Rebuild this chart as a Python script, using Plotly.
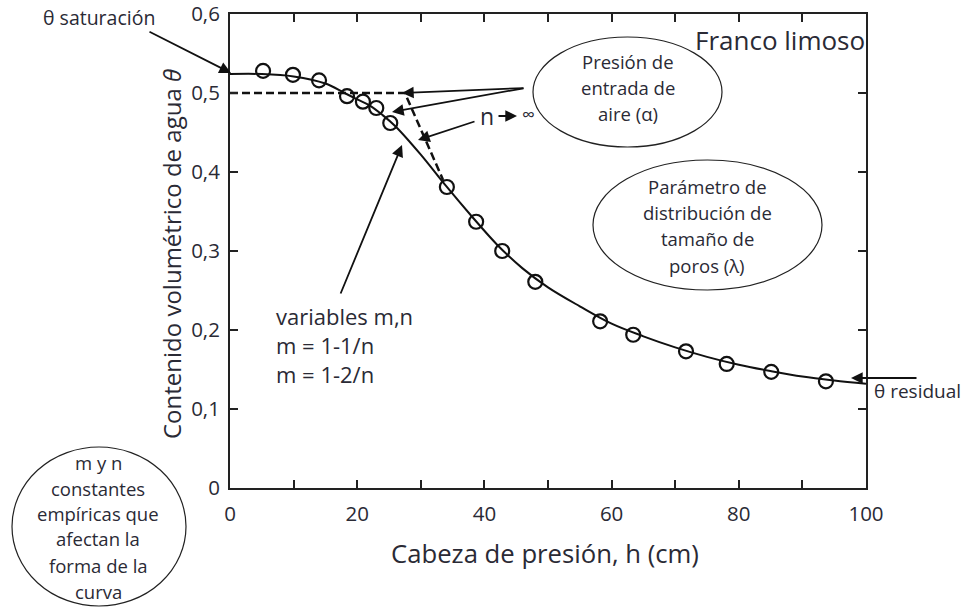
import plotly.graph_objects as go

# ---------------- data ----------------
obs_h = [5.2, 9.9, 14.0, 18.4, 20.9, 23.0, 25.2, 34.1, 38.7, 42.8, 48.0, 58.2, 63.4, 71.7, 78.1, 85.1, 93.7]
obs_theta = [0.528, 0.523, 0.516, 0.496, 0.489, 0.481, 0.462, 0.381, 0.337, 0.300, 0.261, 0.211, 0.194, 0.173, 0.157, 0.147, 0.135]

fit_h = [0, 5, 10, 15, 18, 20, 22, 24, 26, 30, 34, 38, 42, 46, 50, 55, 60, 65, 70, 75, 80, 85, 90, 95, 100]
fit_theta = [0.524, 0.524, 0.521, 0.512, 0.500, 0.492, 0.484, 0.472, 0.458, 0.422, 0.382, 0.344, 0.308,
             0.278, 0.254, 0.230, 0.208, 0.192, 0.178, 0.166, 0.156, 0.148, 0.141, 0.136, 0.132]

tangent_h = [0, 27.5, 33.5]
tangent_theta = [0.5, 0.5, 0.39]

xtick_vals = [0, 20, 40, 60, 80, 100]
xtick_text = ["0", "20", "40", "60", "80", "100"]
ytick_vals = [0, 0.1, 0.2, 0.3, 0.4, 0.5, 0.6]
ytick_text = ["0", "0,1", "0,2", "0,3", "0,4", "0,5", "0,6"]

# ---------------- layout helpers ----------------
W, H = 965, 608
L, R, T, B = 230, 99, 14, 120
PW, PH = W - L - R, H - T - B
FONT = "Open Sans"
TXT = "#2a2a35"


def px(x):
    return (x - L) / PW


def py(y):
    return (H - B - y) / PH


fig = go.Figure()

fig.add_trace(go.Scatter(x=tangent_h, y=tangent_theta, mode="lines",
                         line=dict(color="#111", width=2.5, dash="8px,4px"),
                         hoverinfo="skip", showlegend=False))
fig.add_trace(go.Scatter(x=fit_h, y=fit_theta, mode="lines",
                         line=dict(color="#111", width=2, shape="spline", smoothing=1.0),
                         showlegend=False))
fig.add_trace(go.Scatter(x=obs_h, y=obs_theta, mode="markers",
                         marker=dict(symbol="circle-open", size=14, color="#111", line=dict(width=2.2)),
                         showlegend=False))

annotations = []


def text(x, y, s, size=18, xanchor="center"):
    annotations.append(dict(x=px(x), y=py(y), xref="paper", yref="paper", text=s, showarrow=False,
                            xanchor=xanchor, yanchor="middle", font=dict(family=FONT, size=size, color=TXT)))


def arrow(tip_x, tip_y, tail_x, tail_y):
    annotations.append(dict(x=px(tip_x), y=py(tip_y), xref="paper", yref="paper",
                            ax=tail_x - tip_x, ay=tail_y - tip_y, axref="pixel", ayref="pixel",
                            text="", showarrow=True, arrowhead=2, arrowsize=1.3, arrowwidth=1.8,
                            arrowcolor="#111", standoff=0, startstandoff=0))


# texts
text(99, 17, "θ saturación", 19.5)
text(780, 40, "Franco limoso", 26)
for s, y in [("Presión de", 62), ("entrada de", 88), ("aire (α)", 114)]:
    text(628, y, s, 18.5)
for s, y in [("Parámetro de", 186), ("distribución de", 212), ("tamaño de", 238), ("poros (λ)", 265)]:
    text(707, y, s, 18.5)
for s, y in [("variables m,n", 316), ("m = 1-1/n", 345), ("m = 1-2/n", 374)]:
    text(274, y, s, 22, xanchor="left")
for s, y in [("m y n", 462), ("constantes", 488), ("empíricas que", 513),
             ("afectan la", 538), ("forma de la", 565), ("curva", 591)]:
    text(98, y, s, 18.5)
text(917, 391, "θ residual", 19)
text(487, 116, "n", 23)
text(528, 114, "∞", 18)
text(545, 553, "Cabeza de presión, h (cm)", 25.7)
annotations.append(dict(x=px(171), y=py(254), xref="paper", yref="paper",
                        text="Contenido volumétrico de agua <i>θ</i>", showarrow=False, textangle=-90,
                        xanchor="center", yanchor="middle", font=dict(family=FONT, size=24, color=TXT)))

# arrows
arrow(231, 73, 148, 31)
arrow(402, 93, 525, 88)
arrow(392, 112, 525, 88)
arrow(418, 140, 476, 121)
arrow(402, 145, 340, 295)
arrow(517, 116, 497, 116)
arrow(851, 378, 918, 378)

fig.update_layout(annotations=annotations)

# ellipses
shapes = []
for (x0, y0, x1, y1) in [(533, 37, 722, 147), (593, 160, 822, 290), (12, 447, 186, 606)]:
    shapes.append(dict(type="circle", xref="paper", yref="paper", x0=px(x0), x1=px(x1),
                       y0=py(y1), y1=py(y0), line=dict(color="#222", width=1.2)))
fig.update_layout(shapes=shapes)

axis_common = dict(showline=True, linecolor="#222", linewidth=2, mirror="allticks", ticks="inside",
                   ticklen=8, tickwidth=1.5, tickcolor="#222", showgrid=False, zeroline=False,
                   ticklabeloverflow="allow",
                   tickfont=dict(family=FONT, size=20.5, color=TXT))
fig.update_xaxes(range=[0, 100], tickvals=xtick_vals, ticktext=xtick_text,
                 minor=dict(dtick=10, ticks="inside", ticklen=8, tickwidth=1.5, tickcolor="#222"),
                 ticklabelstandoff=6, **axis_common)
fig.update_yaxes(range=[0, 0.6], tickvals=ytick_vals, ticktext=ytick_text, ticklabelstandoff=4, **axis_common)

fig.update_layout(width=W, height=H, margin=dict(l=L, r=R, t=T, b=B, autoexpand=False),
                  paper_bgcolor="white", plot_bgcolor="white", showlegend=False)

fig.write_html("out.html", config={"displayModeBar": False},
               post_script="document.body.style.margin='0';document.body.style.overflow='hidden';")
